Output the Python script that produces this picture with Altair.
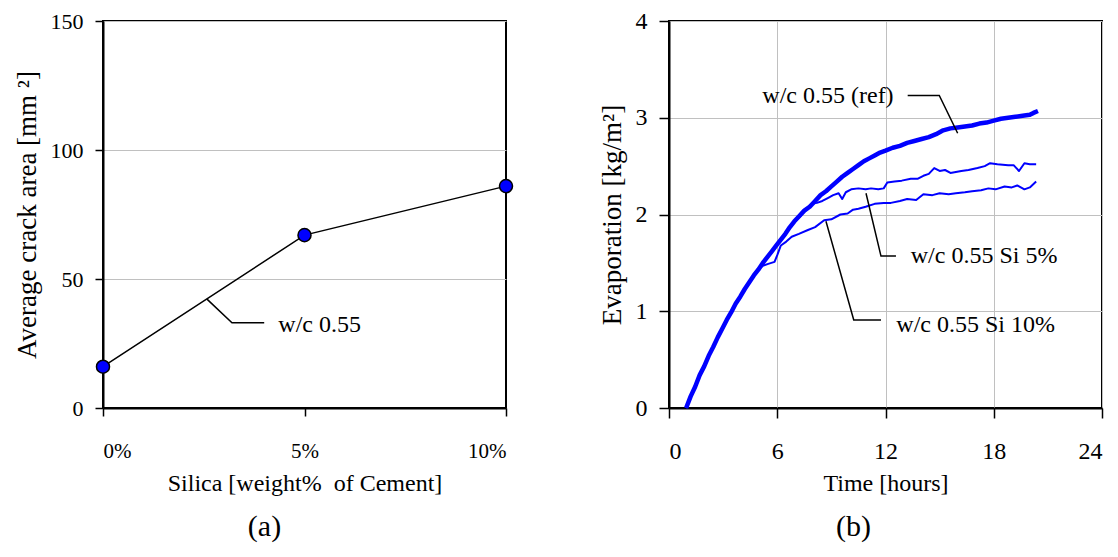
import altair as alt
import pandas as pd

FONT = "Liberation Serif"
BLUE = "#0000FF"

# ---------------- Panel (a) data ----------------
silica_pct = [0, 5, 10]
crack_area = [16, 67, 86]

# ---------------- Panel (b) data ----------------
ref_t = [0.95, 1.2, 1.45, 1.7, 1.95, 2.2, 2.45, 2.7, 2.95, 3.2, 3.45, 3.7, 3.95, 4.2, 4.45, 4.7, 4.95,
         5.2, 5.45, 5.7, 5.95, 6.2, 6.45, 6.7, 6.95, 7.2, 7.5, 7.8, 8.1, 8.4, 8.7, 9.0, 9.3, 9.6, 9.9,
         10.2, 10.5, 10.8, 11.1, 11.4, 11.7, 12.0, 12.4, 12.8, 13.2, 13.6, 14.0, 14.4, 14.8, 15.2, 15.6,
         16.0, 16.4, 16.8, 17.2, 17.6, 18.0, 18.4, 18.8, 19.2, 19.6, 20.0, 20.2, 20.45]
ref_y = [0.00, 0.12, 0.22, 0.34, 0.43, 0.54, 0.63, 0.73, 0.82, 0.91, 0.99, 1.08, 1.15, 1.23, 1.30, 1.37, 1.43,
         1.50, 1.56, 1.62, 1.68, 1.74, 1.80, 1.87, 1.93, 1.98, 2.04, 2.08, 2.14, 2.20, 2.24, 2.29, 2.34, 2.39, 2.43,
         2.47, 2.51, 2.55, 2.58, 2.61, 2.64, 2.66, 2.69, 2.71, 2.74, 2.76, 2.78, 2.80, 2.83, 2.87, 2.89,
         2.90, 2.91, 2.92, 2.94, 2.95, 2.97, 2.99, 3.00, 3.01, 3.02, 3.03, 3.05, 3.07]

si5_t = [0.95, 1.45, 1.95, 2.45, 2.95, 3.45, 3.95, 4.45, 4.95, 5.45, 5.95, 6.45, 6.95, 7.3, 7.6, 7.9,
         8.2, 8.5, 8.8, 9.1, 9.4, 9.6, 9.8, 10.1, 10.5, 10.9, 11.2, 11.6, 11.9, 12.1, 12.5, 12.9, 13.4, 13.8,
         14.1, 14.4, 14.7, 15.0, 15.3, 15.6, 16.2, 16.6, 17.1, 17.5, 17.8, 18.2, 18.8, 19.1, 19.4, 19.7,
         20.0, 20.35]
si5_y = [0.00, 0.22, 0.43, 0.63, 0.82, 0.99, 1.15, 1.30, 1.43, 1.56, 1.68, 1.80, 1.92, 1.99, 2.06, 2.11,
         2.12, 2.14, 2.17, 2.20, 2.22, 2.16, 2.23, 2.26, 2.27, 2.26, 2.27, 2.26, 2.27, 2.33, 2.34, 2.35, 2.37, 2.37,
         2.40, 2.42, 2.48, 2.45, 2.46, 2.43, 2.45, 2.46, 2.48, 2.50, 2.53, 2.52, 2.51, 2.51, 2.45, 2.53,
         2.52, 2.52]

si10_t = [0.95, 1.45, 1.95, 2.45, 2.95, 3.45, 3.95, 4.45, 4.95, 5.2, 5.5, 5.85, 6.0, 6.2, 6.5, 6.8,
          7.2, 7.7, 8.1, 8.6, 9.0, 9.5, 9.9, 10.2, 10.5, 10.9, 11.4, 11.9, 12.3, 12.8, 13.2, 13.7,
          14.1, 14.6, 15.0, 15.5, 15.9, 16.4, 16.8, 17.3, 17.7, 18.1, 18.6, 19.0, 19.3, 19.7, 20.0, 20.35]
si10_y = [0.00, 0.22, 0.43, 0.63, 0.82, 0.99, 1.15, 1.30, 1.43, 1.47, 1.49, 1.51, 1.58, 1.68, 1.72, 1.77,
          1.80, 1.84, 1.87, 1.94, 1.95, 2.00, 2.01, 2.05, 2.06, 2.08, 2.11, 2.12, 2.12, 2.14, 2.16, 2.15,
          2.21, 2.20, 2.22, 2.21, 2.22, 2.23, 2.24, 2.25, 2.27, 2.26, 2.29, 2.28, 2.30, 2.26, 2.28, 2.34]

# ---------------- Annotations ----------------
a_label = "w/c 0.55"
a_leader_x = [2.58, 3.2, 4.0]
a_leader_y = [42.2, 33, 33]
a_text_xy = (4.35, 32)

b_labels = ["w/c 0.55 (ref)", "w/c 0.55 Si 5%", "w/c 0.55 Si 10%"]
b_text_x = [12.45, 13.4, 12.6]
b_text_y = [3.22, 1.57, 0.86]
b_text_align = ["right", "left", "left"]
b_leader_x = [[13.23, 14.98, 16.0], [10.92, 11.75, 12.58], [8.70, 10.24, 11.75]]
b_leader_y = [[3.23, 3.23, 2.84], [2.22, 1.57, 1.57], [1.93, 0.91, 0.91]]

# ---------------- Panel (a) ----------------
df_a = pd.DataFrame({"silica": silica_pct, "area": crack_area})

xa = alt.X("silica:Q", scale=alt.Scale(domain=[0, 10], nice=False, zero=False),
           axis=alt.Axis(values=[0, 5, 10], labelExpr="datum.value + '%'",
                         title="Silica [weight%\u00a0 of Cement]", grid=False,
                         tickSize=8, labelPadding=24, titlePadding=10, labelFontSize=21))
ya = alt.Y("area:Q", scale=alt.Scale(domain=[0, 150], nice=False, zero=False),
           axis=alt.Axis(values=[0, 50, 100, 150], format="d", title="Average crack area [mm \u00b2]",
                         grid=True, tickSize=8, labelPadding=12, titlePadding=9, labelFontSize=22,
                         titleFontSize=27))

a_line = alt.Chart(df_a).mark_line(color="black", strokeWidth=1.5).encode(x=xa, y=ya)
a_pts = alt.Chart(df_a).mark_circle(color=BLUE, stroke="black", strokeWidth=1.5,
                                    size=170, opacity=1).encode(x="silica:Q", y="area:Q")

df_a_lead = pd.DataFrame({"x": a_leader_x, "y": a_leader_y, "o": list(range(len(a_leader_x)))})
a_lead = alt.Chart(df_a_lead).mark_line(color="black", strokeWidth=1.5).encode(
    x="x:Q", y="y:Q", order="o:Q")
df_a_txt = pd.DataFrame({"x": [a_text_xy[0]], "y": [a_text_xy[1]], "t": [a_label]})
a_txt = alt.Chart(df_a_txt).mark_text(font=FONT, fontSize=24, align="left", baseline="middle",
                                      color="black").encode(x="x:Q", y="y:Q", text="t:N")

left = alt.layer(a_line, a_pts, a_lead, a_txt).properties(
    width=403, height=387,
    title=alt.TitleParams("(a)", orient="bottom", font=FONT, fontSize=30, fontWeight="normal",
                          color="black", dx=-40, offset=17, anchor="middle"))

# ---------------- Panel (b) ----------------
xb_axis = alt.Axis(values=[0, 6, 12, 18, 24], format="d", title="Time [hours]", grid=True,
                   tickSize=10, labelPadding=21, titlePadding=8, labelFontSize=24)
yb_axis = alt.Axis(values=[0, 1, 2, 3, 4], format="d", title="Evaporation [kg/m\u00b2]", grid=True,
                   tickSize=10, labelPadding=12, titlePadding=9, labelFontSize=24, titleFontSize=27)
xb_scale = alt.Scale(domain=[0, 24], nice=False, zero=False)
yb_scale = alt.Scale(domain=[0, 4], nice=False, zero=False)

def series(ts, ys, width, first=False):
    df = pd.DataFrame({"t": ts, "v": ys})
    if first:
        enc = dict(x=alt.X("t:Q", scale=xb_scale, axis=xb_axis),
                   y=alt.Y("v:Q", scale=yb_scale, axis=yb_axis))
    else:
        enc = dict(x="t:Q", y="v:Q")
    return alt.Chart(df).mark_line(color=BLUE, strokeWidth=width, strokeJoin="round").encode(**enc)

b_ref = series(ref_t, ref_y, 4.5, first=True)
b_5 = series(si5_t, si5_y, 2.0)
b_10 = series(si10_t, si10_y, 2.0)

lead_rows = []
for i, (xs, ys) in enumerate(zip(b_leader_x, b_leader_y)):
    for j, (x, y) in enumerate(zip(xs, ys)):
        lead_rows.append({"g": i, "o": j, "x": x, "y": y})
b_lead = alt.Chart(pd.DataFrame(lead_rows)).mark_line(color="black", strokeWidth=1.5).encode(
    x="x:Q", y="y:Q", detail="g:N", order="o:Q")

df_b_txt = pd.DataFrame({"x": b_text_x, "y": b_text_y, "t": b_labels, "al": b_text_align})
b_txt_r = alt.Chart(df_b_txt[df_b_txt.al == "right"]).mark_text(
    font=FONT, fontSize=24, align="right", baseline="middle", color="black").encode(
    x="x:Q", y="y:Q", text="t:N")
b_txt_l = alt.Chart(df_b_txt[df_b_txt.al == "left"]).mark_text(
    font=FONT, fontSize=24, align="left", baseline="middle", color="black").encode(
    x="x:Q", y="y:Q", text="t:N")

right = alt.layer(b_ref, b_5, b_10, b_lead, b_txt_r, b_txt_l).properties(
    width=433, height=387,
    title=alt.TitleParams("(b)", orient="bottom", font=FONT, fontSize=30, fontWeight="normal",
                          color="black", dx=-32, offset=17, anchor="middle"))

chart = alt.hconcat(left, right, spacing=80).properties(
    padding={"left": 4, "top": 0, "right": 0, "bottom": 0},
    background="white"
).configure_view(
    stroke="black", strokeWidth=2
).configure_axis(
    labelFont=FONT, titleFont=FONT, labelColor="black", titleColor="black",
    titleFontSize=24, titleFontWeight="normal", domainColor="black", domainWidth=2,
    tickColor="black", tickWidth=1.5, gridColor="#c0c0c0", gridWidth=1
)

chart.save("out.html", embed_options={"renderer": "svg", "actions": False})
